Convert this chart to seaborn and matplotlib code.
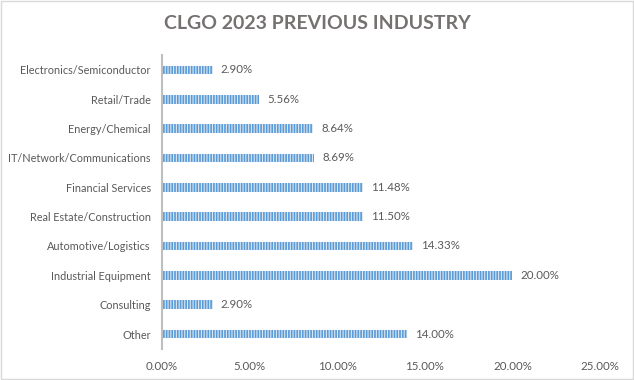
import matplotlib
matplotlib.use("Agg")
import matplotlib.pyplot as plt
import seaborn as sns
import pandas as pd
from matplotlib.patches import Rectangle

industries = [
    "Electronics/Semiconductor",
    "Retail/Trade",
    "Energy/Chemical",
    "IT/Network/Communications",
    "Financial Services",
    "Real Estate/Construction",
    "Automotive/Logistics",
    "Industrial Equipment",
    "Consulting",
    "Other",
]
shares = [2.90, 5.56, 8.64, 8.69, 11.48, 11.50, 14.33, 20.00, 2.90, 14.00]
xticks = [0, 5, 10, 15, 20, 25]

df = pd.DataFrame({"industry": industries, "share": shares})

sns.set_style("white")
plt.rcParams["font.family"] = ["Lato", "DejaVu Sans"]
plt.rcParams["hatch.linewidth"] = 0.8
text_col = "#595959"

fig = plt.figure(figsize=(6.34, 3.8), dpi=100)
ax = fig.add_axes([0.2555, 0.0824, 0.6909, 0.7721])

sns.barplot(data=df, x="share", y="industry", orient="h", color="#5B9BD5",
            width=0.3, ax=ax, saturation=1)
for p in ax.patches:
    p.set_hatch("||||||")
    p.set_edgecolor("#DCE8F5")
    p.set_linewidth(0)

for i, v in enumerate(shares):
    ax.text(v + 0.45, i, f"{v:.2f}%", va="center", ha="left", fontsize=8.3, color=text_col)

ax.set_xlim(0, 25)
ax.set_ylim(9.5, -0.5)
ax.set_xticks(xticks)
ax.set_xticklabels([f"{t:.2f}%" for t in xticks], fontsize=8.3, color=text_col)
ax.tick_params(axis="y", labelsize=7.8, labelcolor=text_col, length=0, pad=8)
ax.tick_params(axis="x", length=0, pad=9)
ax.set_xlabel("")
ax.set_ylabel("")
for s in ["top", "right", "bottom"]:
    ax.spines[s].set_visible(False)
ax.spines["left"].set_color("#BFBFBF")
ax.spines["left"].set_linewidth(1.5)

fig.text(0.5, 0.938, "CLGO 2023 PREVIOUS INDUSTRY", ha="center", va="center",
         fontsize=14, fontweight="bold", color="#767171")
fig.patches.append(Rectangle((0.002, 0.003), 0.996, 0.994, transform=fig.transFigure,
                             fill=False, edgecolor="#D9D9D9", linewidth=1))

fig.savefig("out.png", dpi=100)
plt.close(fig)
